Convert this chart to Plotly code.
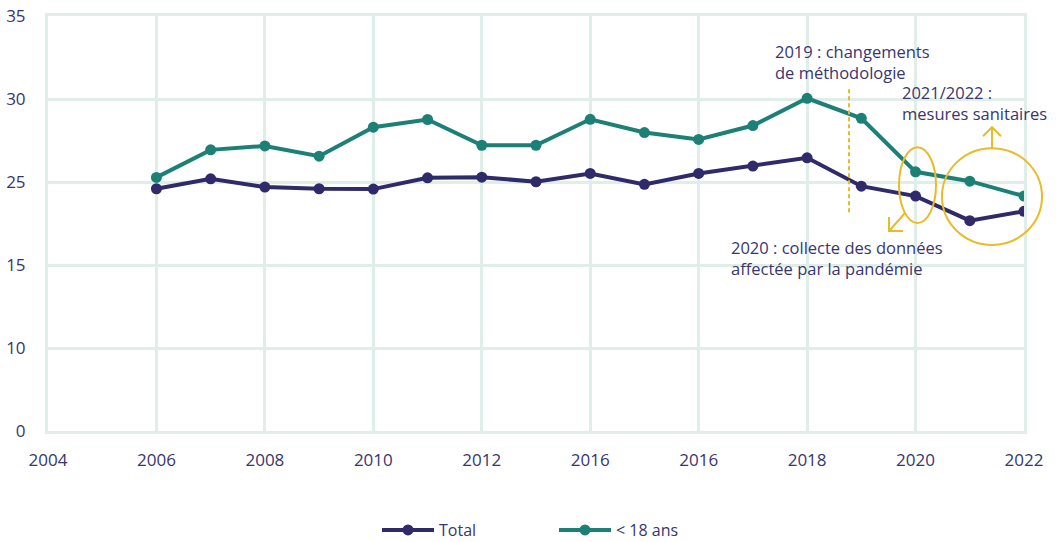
import plotly.graph_objects as go

# ---- data (values read in grid units: each gridline step = 7 units) ----
years = list(range(2006, 2023))
total = [20.43, 21.27, 20.57, 20.43, 20.40, 21.35, 21.41, 21.02, 21.72, 20.80,
         21.72, 22.34, 23.04, 20.65, 19.81, 17.74, 18.53]
under18 = [21.39, 23.71, 24.04, 23.18, 25.62, 26.27, 24.10, 24.10, 26.29, 25.17,
           24.59, 25.76, 28.06, 26.37, 21.86, 21.07, 19.81]

x_tickvals = [2004, 2006, 2008, 2010, 2012, 2014, 2016, 2018, 2020, 2022]
x_ticktext = ["2004", "2006", "2008", "2010", "2012", "2016", "2016", "2018", "2020", "2022"]
y_tickvals = [0, 7, 14, 21, 28, 35]
y_ticktext = ["0", "10", "15", "25", "30", "35"]

NAVY = "#2f2a69"
TEAL = "#1d8077"
GOLD = "#e8bb2a"
GRID = "#dfeee9"
TXT = "#38356f"
FONT = "Open Sans"

W, H = 1056, 542
# plot-area geometry in page px, used only to place annotations/shapes
L, R, T, B = 48, 1024, 15.5, 431.5
XMIN, XMAX, YMIN, YMAX = 2004, 2022, 0, 35


def X(px):
    return XMIN + (px - L) * (XMAX - XMIN) / (R - L)


def Y(py):
    return YMIN + (B - py) * (YMAX - YMIN) / (B - T)


def PX(px):
    return (px - L) / (R - L)


def PY(py):
    return (B - py) / (B - T)


fig = go.Figure()
fig.add_trace(go.Scatter(x=years, y=total, name="Total", mode="lines+markers",
                         line=dict(color=NAVY, width=4), marker=dict(size=11, color=NAVY)))
fig.add_trace(go.Scatter(x=years, y=under18, name="< 18 ans", mode="lines+markers",
                         line=dict(color=TEAL, width=4), marker=dict(size=11, color=TEAL)))

shapes = []
# dashed methodology line
shapes.append(dict(type="line", xref="x", yref="y", x0=X(849), x1=X(849), y0=Y(89), y1=Y(215),
                   line=dict(color=GOLD, width=2, dash="4px,3px")))
# ellipse 2020
shapes.append(dict(type="circle", xref="paper", yref="paper", x0=PX(899), x1=PX(936),
                   y0=PY(147), y1=PY(223), line=dict(color=GOLD, width=2)))
# circle 2021/2022 (extends beyond the plot area)
shapes.append(dict(type="circle", xref="paper", yref="paper", x0=PX(942), x1=PX(1042),
                   y0=PY(148), y1=PY(245), line=dict(color=GOLD, width=2)))
# arrow from ellipse (down-left)
shapes.append(dict(type="line", xref="paper", yref="paper", x0=PX(905), y0=PY(213),
                   x1=PX(890), y1=PY(230), line=dict(color=GOLD, width=2)))
shapes.append(dict(type="path", xref="paper", yref="paper",
                   path=f"M{PX(903)},{PY(231)} L{PX(889)},{PY(231)} L{PX(889)},{PY(217)}",
                   line=dict(color=GOLD, width=2)))
# arrow up from circle
shapes.append(dict(type="line", xref="paper", yref="paper", x0=PX(992), y0=PY(148),
                   x1=PX(992), y1=PY(127), line=dict(color=GOLD, width=2)))
shapes.append(dict(type="path", xref="paper", yref="paper",
                   path=f"M{PX(983)},{PY(136)} L{PX(992)},{PY(127)} L{PX(1001)},{PY(136)}",
                   line=dict(color=GOLD, width=2)))

annotations = [
    dict(x=X(773), y=Y(38), xref="x", yref="y", xanchor="left", yanchor="top", showarrow=False,
         align="left", text="2019 : changements<br>de méthodologie",
         font=dict(family=FONT, size=16.5, color=TXT)),
    dict(x=X(900), y=Y(79), xref="x", yref="y", xanchor="left", yanchor="top", showarrow=False,
         align="left", text="2021/2022 :<br>mesures sanitaires",
         font=dict(family=FONT, size=16.5, color=TXT)),
    dict(x=X(729), y=Y(234), xref="x", yref="y", xanchor="left", yanchor="top", showarrow=False,
         align="left", text="2020 : collecte des données<br>affectée par la pandémie",
         font=dict(family=FONT, size=16.5, color=TXT)),
]

fig.update_layout(
    width=W, height=H,
    margin=dict(l=L, r=W - R, t=T, b=H - B, pad=0, autoexpand=False),
    paper_bgcolor="white", plot_bgcolor="white",
    font=dict(family=FONT, size=16, color=TXT),
    shapes=shapes, annotations=annotations,
    showlegend=True,
    legend=dict(orientation="h", x=(383 - 6) / W, xanchor="left", xref="container",
                y=1 - 530 / H, yanchor="middle", yref="container",
                font=dict(family=FONT, size=16, color=TXT), entrywidth=110, itemwidth=52),
)
fig.update_xaxes(range=[XMIN, XMAX], tickvals=x_tickvals, ticktext=x_ticktext, automargin=False,
                 showgrid=True, gridcolor=GRID, gridwidth=3, zeroline=False,
                 showline=True, mirror=True, linecolor=GRID, linewidth=3,
                 ticklabeloverflow="allow",
                 ticks="", ticklabelstandoff=12, tickfont=dict(size=17, color=TXT))
fig.update_yaxes(range=[YMIN, YMAX], tickvals=y_tickvals, ticktext=y_ticktext, automargin=False,
                 showgrid=True, gridcolor=GRID, gridwidth=3, zeroline=False,
                 showline=True, mirror=True, linecolor=GRID, linewidth=3,
                 ticklabeloverflow="allow",
                 ticks="", ticklabelstandoff=16, tickfont=dict(size=17, color=TXT))

fig.write_html("out.html", config={"displayModeBar": False},
               post_script="document.body.style.margin='0px';")
